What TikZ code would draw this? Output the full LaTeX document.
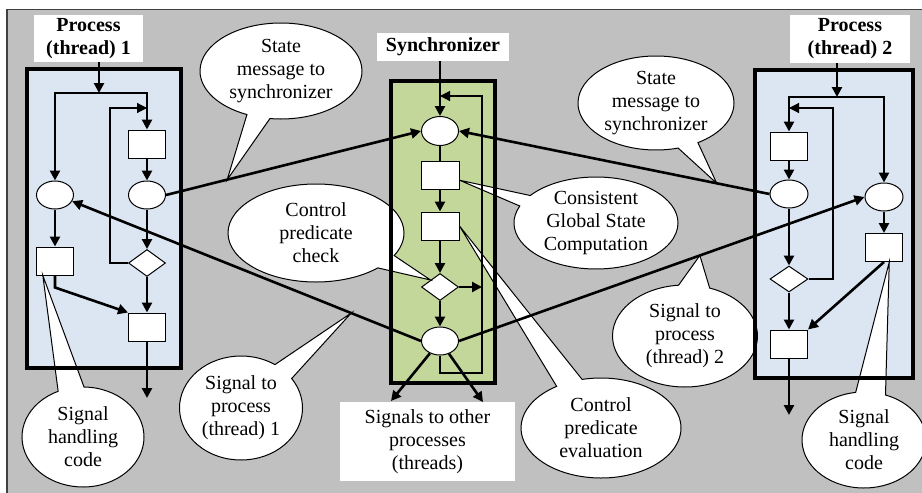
\documentclass[tikz,border=0pt]{standalone}
\usepackage{fontspec}
\setmainfont{Liberation Serif}
\usetikzlibrary{arrows.meta,shapes.geometric,shapes.callouts}
\pgfdeclarelayer{bg}
\pgfdeclarelayer{fg}
\pgfsetlayers{bg,main,fg}
\definecolor{panel}{RGB}{192,192,192}
\definecolor{frameline}{RGB}{64,64,64}
\definecolor{procblue}{RGB}{220,230,242}
\definecolor{syncgreen}{RGB}{196,215,155}
\tikzset{
  txt/.style={font=\fontsize{20}{23}\selectfont, align=center},
  title/.style={txt, font=\fontsize{20}{23}\selectfont\bfseries, fill=white, inner sep=0pt},
  stagebox/.style={rectangle, inner sep=0pt},
  ring/.style={ellipse, draw, fill=white, line width=1pt, minimum width=37pt, minimum height=28pt, inner sep=0pt},
  task/.style={rectangle, draw, fill=white, line width=1pt, minimum width=37pt, minimum height=28pt, inner sep=0pt},
  test/.style={diamond, draw, fill=white, line width=1pt, minimum width=37pt, minimum height=27pt, inner sep=0pt},
  flow/.style={line width=2.6pt, -{Triangle[length=10pt,width=10pt]}},
  plain/.style={line width=2.6pt},
  loopline/.style={line width=1.2pt, -{Triangle[length=10pt,width=10pt]}},
  bubble/.style={ellipse callout, draw, fill=white, line width=1pt, txt, inner sep=0pt},
  border/.style={line width=4.5pt},
}
\begin{document}
\begin{tikzpicture}[x=1pt,y=-1pt]
\useasboundingbox (0,0) rectangle (922,493);

% panel and stage fills
\begin{pgfonlayer}{bg}
  \fill[panel] (7,9.5) rectangle (922,493);
  \draw[frameline, line width=1.3pt] (922,9.5) -- (7,9.5) -- (7,493);
  \node[stagebox, fill=procblue, minimum width=154pt, minimum height=299pt] (p1box) at (104,218.5) {};
  \node[stagebox, fill=syncgreen, minimum width=104pt, minimum height=302pt] (sbox) at (443,232) {};
  \node[stagebox, fill=procblue, minimum width=158pt, minimum height=308pt] (p2box) at (834,224) {};
\end{pgfonlayer}

% titles
\node[title, minimum width=109pt, minimum height=47pt] (p1lbl) at (88.5,38.5) {Process\\(thread) 1};
\node[title, minimum width=132pt, minimum height=28pt] (slbl) at (443,47) {Synchronizer};
\node[title, minimum width=120pt, minimum height=48pt] (p2lbl) at (850,39) {Process\\(thread) 2};
\node[txt, fill=white, inner sep=0pt, minimum width=175pt, minimum height=79pt] (others) at (427.5,441.5) {Signals to other\\processes\\(threads)};

% process 1
\node[ring] (p1a) at (55,195) {};
\node[ring] (p1b) at (147,195) {};
\node[task] (p1t) at (147,144) {};
\node[task] (p1h) at (55,261) {};
\node[test] (p1q) at (147,263) {};
\node[task] (p1o) at (147,327) {};
\coordinate (p1fork) at (99,93);
\coordinate (p1back) at (110,108);
\coordinate (p1out) at (147,398);

% synchronizer
\node[ring, minimum height=29pt] (sin) at (440,131) {};
\node[task, minimum width=38pt] (sgs) at (440,175) {};
\node[task, minimum width=38pt] (sev) at (440,226) {};
\node[test] (sq) at (440,287) {};
\node[ring] (sout) at (440,341) {};
\coordinate (sret) at (482,373);
\coordinate (stop) at (482,96);
\coordinate (sig1) at (391,401);
\coordinate (sig2) at (483,402);

% process 2
\node[task] (p2t) at (789,146) {};
\node[ring, minimum width=38pt] (p2a) at (789,194) {};
\node[test, minimum width=38pt, minimum height=26pt] (p2q) at (789,279) {};
\node[task] (p2o) at (789,344) {};
\node[ring, minimum width=38pt] (p2b) at (884,197) {};
\node[task] (p2h) at (884,247.5) {};
\coordinate (p2fork) at (837,97);
\coordinate (p2back) at (833,108);
\coordinate (p2out) at (789,415);

% points on the message lines where the callouts touch
\path (p1b.east) -- coordinate[pos=0.24] (tipL) (sin.west);
\path (p2a.west) -- coordinate[pos=0.17] (tipR) (sin.east);
\path (sout.west) -- coordinate[pos=0.2] (tipS1) (p1a.-20);
\path (sout.east) -- coordinate[pos=0.594] (tipS2) (p2b.west);

% callouts
\node[bubble, minimum width=162pt, minimum height=96pt, callout absolute pointer={(tipL)}, callout pointer arc=17] (cmsg1) at (281,71) {State\\message to\\synchronizer};
\node[bubble, minimum width=156pt, minimum height=94pt, callout absolute pointer={(tipR)}, callout pointer arc=16] (cmsg2) at (656,103) {State\\message to\\synchronizer};
\node[bubble, minimum width=164pt, minimum height=92pt, callout absolute pointer={(sgs.-15)}, callout pointer arc=15] (cgsc) at (596,223) {Consistent\\Global State\\Computation};
\node[bubble, minimum width=176pt, minimum height=98pt, callout absolute pointer={(sq.north west)}, callout pointer arc=18] (ccheck) at (316,233) {Control\\predicate\\check};
\node[bubble, minimum width=160pt, minimum height=100pt, callout absolute pointer={(sev.east)}, callout pointer arc=20] (ceval) at (601,428) {Control\\predicate\\evaluation};
\node[bubble, minimum width=123pt, minimum height=104pt, callout absolute pointer={(tipS1)}, callout pointer arc=22] (csig1) at (241,408) {Signal to\\process\\(thread) 1};
\node[bubble, minimum width=145pt, minimum height=102pt, callout absolute pointer={(tipS2)}, callout pointer arc=25] (csig2) at (685,336) {Signal to\\process\\(thread) 2};
\node[bubble, minimum width=122pt, minimum height=100pt, callout absolute pointer={(p1h.-130)}, callout pointer arc=25] (chand1) at (83,437) {Signal\\handling\\code};
\node[bubble, minimum width=124pt, minimum height=96pt, callout absolute pointer={(p2h.-70)}, callout pointer arc=28] (chand2) at (864,440) {Signal\\handling\\code};

\begin{pgfonlayer}{fg}
  % stage frames
  \draw[border] (p1box.south west) rectangle (p1box.north east);
  \draw[border] (sbox.south west) rectangle (sbox.north east);
  \draw[border] (p2box.south west) rectangle (p2box.north east);

  % process 1 flow
  \draw[flow] (p1fork |- p1lbl.south) -- (p1fork);
  \draw[flow] (p1fork) -| (p1a.north);
  \draw[flow] (p1fork) -| (p1t.north);
  \draw[flow] (p1t) -- (p1b);
  \draw[flow] (p1b) -- (p1q);
  \draw[flow] (p1q) -- (p1o);
  \draw[flow] (p1a) -- (p1h);
  \draw[flow] (p1h.south) -- ++(0,12) -- (p1o.north west);
  \draw[flow] (p1o) -- (p1out);
  \draw[loopline] (p1q.west) -| (p1back) -- (p1back -| p1t);

  % synchronizer flow
  \draw[flow] (sin |- slbl.south) -- (sin.north);
  \draw[plain] (sin) -- (sgs);
  \draw[flow] (sgs) -- (sev);
  \draw[flow] (sev) -- (sq);
  \draw[flow] (sq) -- (sout);
  \draw[flow] (sq.east) -- (sq.east -| sret);
  \draw[loopline] (sout.south) |- (sret) -- (stop) -- (stop -| sin);
  \draw[flow] (sout) -- (sig1);
  \draw[flow] (sout) -- (sig2);

  % process 2 flow
  \draw[flow] (p2fork |- p2lbl.south) -- (p2fork);
  \draw[flow] (p2fork) -| (p2t.north);
  \draw[flow] (p2fork) -| (p2b.north);
  \draw[flow] (p2t) -- (p2a);
  \draw[flow] (p2a) -- (p2q);
  \draw[flow] (p2q) -- (p2o);
  \draw[flow] (p2b) -- (p2h);
  \draw[flow] (p2h.south) -- (p2o.north east);
  \draw[flow] (p2o) -- (p2out);
  \draw[loopline] (p2q.east) -| (p2back) -- (p2back -| p2t);

  % messages between processes and synchronizer
  \draw[flow] (p1b.east) -- (sin.west);
  \draw[flow] (p2a.west) -- (sin.east);
  \draw[flow] (sout.west) -- (p1a.-20);
  \draw[flow] (sout.east) -- (p2b.west);
\end{pgfonlayer}
\end{tikzpicture}
\end{document}
